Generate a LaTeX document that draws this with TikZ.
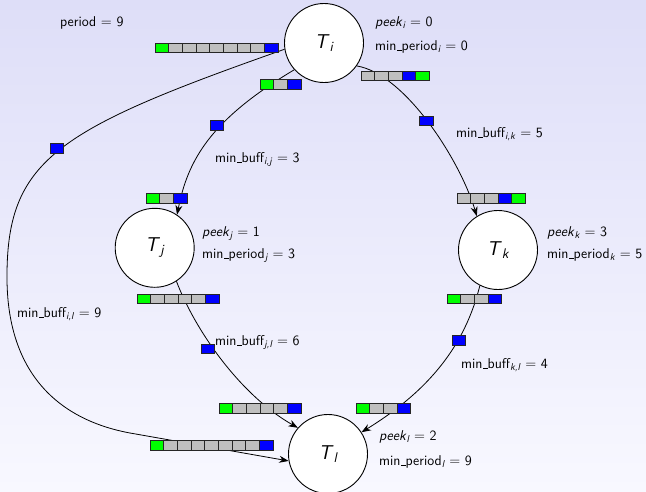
\documentclass[tikz,border=0pt]{standalone}
\usetikzlibrary{arrows.meta}
\renewcommand{\familydefault}{\sfdefault}
\definecolor{cg}{RGB}{0,255,0}
\definecolor{cgr}{RGB}{191,191,191}
\definecolor{cbl}{RGB}{0,0,255}
\definecolor{bgtop}{RGB}{222,222,248}
\definecolor{bgbot}{RGB}{248,248,255}
\newcommand{\sbs}[1]{$_{\mbox{\fontsize{10}{11}\selectfont\itshape #1}}$}
\newcommand{\us}{\leavevmode\kern.06em\vbox{\hrule width.3em}}
\newcommand{\tname}[1]{\textit{T}$_{\mbox{\fontsize{14}{14}\selectfont\itshape #1}}$}
\newcommand{\fifo}[3]{\foreach \cc [count=\nn from 0] in {#3} {\draw[cell, fill=\cc] ({#1+\nn*13.7},{#2}) rectangle ++(13.7,9.5);}}
\begin{document}
\begin{tikzpicture}[x=1pt,y=-1pt,
  every node/.style={font=\fontsize{14.2}{16}\selectfont},
  task/.style={circle, draw, fill=white, minimum size=79pt, inner sep=0pt, line width=0.9pt, font=\fontsize{20}{22}\selectfont},
  lbl/.style={anchor=base west, inner sep=0pt},
  cell/.style={draw=black!85, line width=1pt},
  edge/.style={line width=0.8pt, -{Stealth[length=9.5pt,width=7pt]}}]
\useasboundingbox (0,0) rectangle (646,491);
\shade[top color=bgtop, bottom color=bgbot] (0,0) rectangle (646,491);

% tasks
\node[task] (Ti) at (324,43) {\tname{i}};
\node[task] (Tj) at (154.7,247.8) {\tname{j}};
\node[task] (Tk) at (498,250) {\tname{k}};
\node[task] (Tl) at (328,454) {\tname{l}};

% edges
\coordinate (il1) at (7,280);
\coordinate (il2) at (130,433);
\draw[edge] (Ti.189) .. controls (55,130) and (6,160) .. (il1)
  .. controls (8,375) and (60,420) .. (il2) -- (Tl.190);
\draw[edge] (Ti.222) .. controls (210,120) and (188,160) .. (Tj.56);
\draw[edge] (Ti.-35) .. controls (405,74) and (460,160) .. (Tk.122);
\draw[edge] (Tj.-57) .. controls (195,330) and (240,395) .. (Tl.139);
\draw[edge] (Tk.243) .. controls (465,345) and (430,390) .. (Tl.33);

% buffers
\fifo{155}{43}{cg,cgr,cgr,cgr,cgr,cgr,cgr,cgr,cbl}
\fifo{260}{79.5}{cg,cgr,cbl}
\fifo{361}{71}{cgr,cgr,cgr,cbl,cg}
\fifo{146}{193.5}{cg,cgr,cbl}
\fifo{137}{294}{cg,cgr,cgr,cgr,cgr,cbl}
\fifo{457}{193.5}{cgr,cgr,cgr,cbl,cg}
\fifo{447}{294}{cg,cgr,cgr,cbl}
\fifo{219}{403.5}{cg,cgr,cgr,cgr,cgr,cbl}
\fifo{356}{403.5}{cg,cgr,cgr,cbl}
\fifo{150}{440.5}{cg,cgr,cgr,cgr,cgr,cgr,cgr,cgr,cbl}
% in-flight tokens
\fifo{50}{143.5}{cbl}
\fifo{210}{120.5}{cbl}
\fifo{419.5}{116}{cbl}
\fifo{201}{344}{cbl}
\fifo{452}{335.5}{cbl}

% labels
\node[lbl] (per) at (60,26) {period $=$ 9};
\node[lbl] (pki) at (375,26.5) {\textit{peek}\sbs{i} $=$ 0};
\node[lbl] (mpi) at (375,50) {min\us period\sbs{i} $=$ 0};
\node[lbl] (pkj) at (202,236.5) {\textit{peek}\sbs{j} $=$ 1};
\node[lbl] (mpj) at (202,258) {min\us period\sbs{j} $=$ 3};
\node[lbl] (pkk) at (547,236.5) {\textit{peek}\sbs{k} $=$ 3};
\node[lbl] (mpk) at (547,258) {min\us period\sbs{k} $=$ 5};
\node[lbl] (pkl) at (379,440) {\textit{peek}\sbs{l} $=$ 2};
\node[lbl] (mpl) at (379,465) {min\us period\sbs{l} $=$ 9};
\node[lbl] (mbik) at (456,137) {min\us buff\sbs{i,k} $=$ 5};
\node[lbl] (mbij) at (215,162) {min\us buff\sbs{i,j} $=$ 3};
\node[lbl] (mbil) at (17,317) {min\us buff\sbs{i,l} $=$ 9};
\node[lbl] (mbjl) at (215,345) {min\us buff\sbs{j,l} $=$ 6};
\node[lbl] (mbkl) at (461,368) {min\us buff\sbs{k,l} $=$ 4};
\end{tikzpicture}
\end{document}
